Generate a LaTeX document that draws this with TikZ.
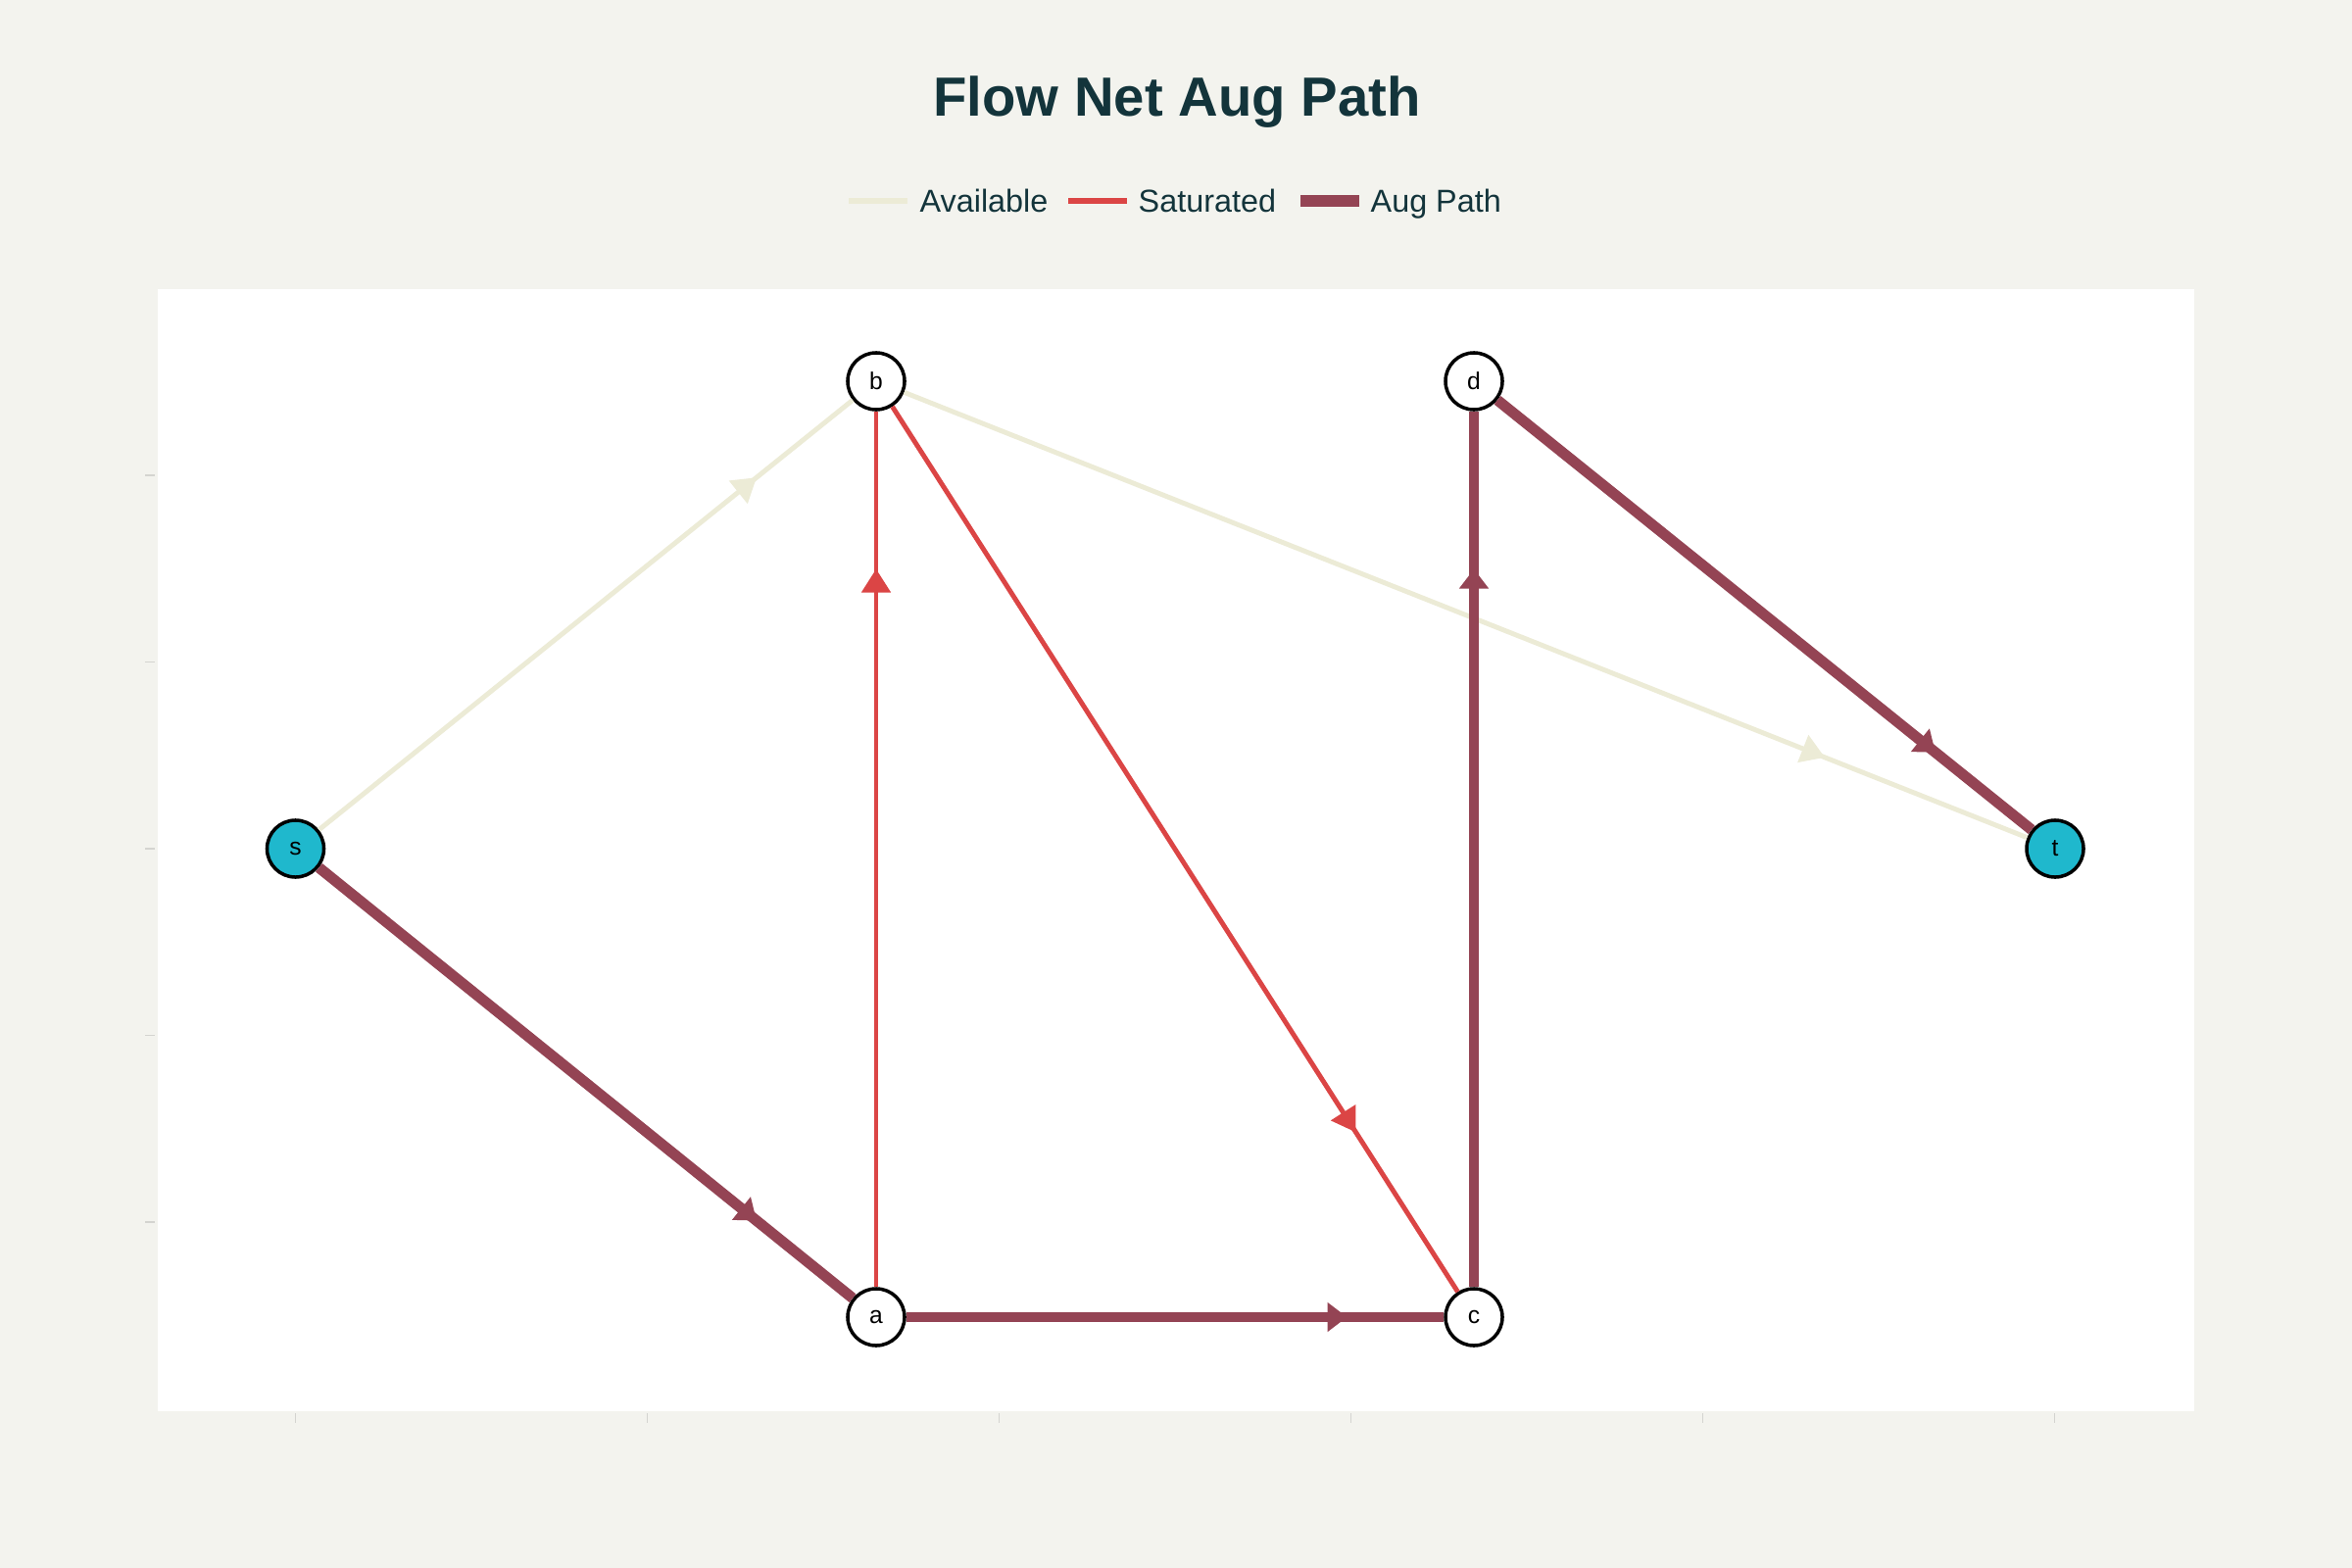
\documentclass[tikz,border=0pt]{standalone}
\usepackage{fontspec}
\setmainfont{Liberation Sans}
\usepackage{xcolor}
\usepackage{tikz}
\usetikzlibrary{arrows.meta,decorations.markings}

\definecolor{bgcol}{HTML}{F3F3EE}
\definecolor{availcol}{HTML}{ECEBD6}
\definecolor{satcol}{HTML}{DB4545}
\definecolor{augcol}{HTML}{944454}
\definecolor{termcol}{HTML}{1FB8CD}
\definecolor{inkcol}{HTML}{13343B}
\definecolor{tickcol}{HTML}{D4D4D0}

\begin{document}
\begin{tikzpicture}[x=0.01cm,y=-0.01cm,
    vertex/.style={circle,draw=black,line width=1pt,fill=white,
      minimum size=0.58cm,inner sep=0pt,font=\fontsize{7pt}{8pt}\selectfont},
    terminal/.style={vertex,fill=termcol},
    flowarrow/.style={postaction={decorate},decoration={markings,
      mark=at position 0.82 with {\arrow{Triangle[length=#1,width=0.29cm]}}}},
    avail/.style={draw=availcol,line width=1.4pt,flowarrow=0.24cm},
    sat/.style={draw=satcol,line width=1.4pt,flowarrow=0.24cm},
    aug/.style={draw=augcol,line width=3.1pt,flowarrow=0.2cm},
    tick/.style={draw=tickcol,line width=0.4pt}]

    % Background and plot area
    \fill[bgcol] (0,0) rectangle (2400,1600);
    \useasboundingbox (0,0) rectangle (2400,1600);
    \fill[white] (161,295) rectangle (2239,1440);

    % Title
    \node[anchor=base,text=inkcol,font=\fontsize{16pt}{18pt}\selectfont\bfseries] (title) at (1201,119) {Flow Net Aug Path};

    % Legend
    \draw[availcol,line width=1.7pt] (866,205) -- (926,205);
    \node[anchor=base west,inner sep=0pt,text=inkcol,font=\fontsize{9.2pt}{11pt}\selectfont] (lavail) at (938,216) {Available};
    \draw[satcol,line width=1.7pt] (1090,205) -- (1150,205);
    \node[anchor=base west,inner sep=0pt,text=inkcol,font=\fontsize{9.2pt}{11pt}\selectfont] (lsat) at (1161,216) {Saturated};
    \draw[augcol,line width=3.4pt] (1327,205) -- (1387,205);
    \node[anchor=base west,inner sep=0pt,text=inkcol,font=\fontsize{9.2pt}{11pt}\selectfont] (laug) at (1398,216) {Aug Path};

    % Axis ticks
    \foreach \k in {-2,...,2}
      \draw[tick] (148,866+190.5*\k) -- (158,866+190.5*\k);
    \foreach \k in {0,...,5}
      \draw[tick] (301.5+359*\k,1442) -- (301.5+359*\k,1452);

    % Vertices
    \node[terminal] (s) at (301.5,866) {s};
    \node[vertex] (b) at (894,389) {b};
    \node[vertex] (a) at (894,1344) {a};
    \node[vertex] (d) at (1504,389) {d};
    \node[vertex] (c) at (1504,1344) {c};
    \node[terminal] (t) at (2097,866) {t};

    % Edges
    \draw[avail] (s) -- (b);
    \draw[avail] (b) -- (t);
    \draw[sat] (a) -- (b);
    \draw[sat] (b) -- (c);
    \draw[aug] (s) -- (a);
    \draw[aug] (a) -- (c);
    \draw[aug] (c) -- (d);
    \draw[aug] (d) -- (t);

\end{tikzpicture}
\end{document}
